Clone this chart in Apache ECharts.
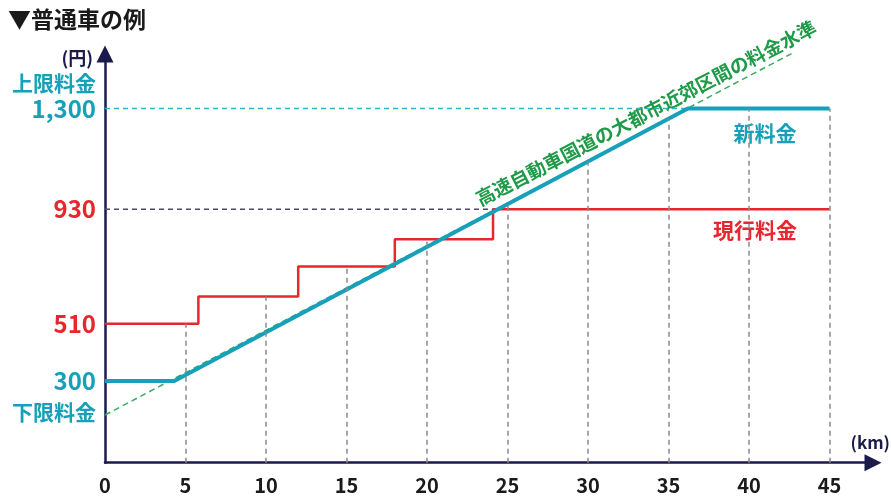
<!DOCTYPE html>
<html><head><meta charset="utf-8">
<script src="https://cdn.jsdelivr.net/npm/echarts@6/dist/echarts.min.js"></script>
<style>html,body{margin:0;padding:0;background:#fff}#c{width:891px;height:497px}</style>
</head><body><div id="c"></div>
<script>
// ---- data ----
const xTickLabels = [0, 5, 10, 15, 20, 25, 30, 35, 40, 45];
const yTickLabels = [300, 510, 930, 1300];
const currentBreaksKm = [0, 5.8, 12, 18, 24.1, 45];
const currentFares = [510, 610, 720, 820, 930];
const newFareKm = [0, 4.3, 36.2, 45];
const newFares = [300, 300, 1300, 1300];
const levelKm = [0, 45];
const levelFares = [175, 1575];

const FONT = '"Noto Sans CJK JP", "Noto Sans", sans-serif';
const CYAN = '#16a0b9', RED = '#e8262e', GREEN = '#1f9a48', NAVY = '#1b1b4b';

const redPts = [];
for (let i = 0; i < currentFares.length; i++) {
  redPts.push([currentBreaksKm[i], currentFares[i]]);
  redPts.push([currentBreaksKm[i + 1], currentFares[i]]);
}
const bluePts = newFareKm.map((k, i) => [k, newFares[i]]);
const greenPts = levelKm.map((k, i) => [k, levelFares[i]]);

function redAt(x) {
  for (let i = 0; i < currentFares.length; i++) {
    if (x >= currentBreaksKm[i] && x < currentBreaksKm[i + 1]) return currentFares[i];
  }
  return currentFares[currentFares.length - 1];
}
function blueAt(x) {
  for (let i = 0; i < newFareKm.length - 1; i++) {
    const a = newFareKm[i], b = newFareKm[i + 1];
    if (x >= a && x <= b) return newFares[i] + (newFares[i + 1] - newFares[i]) * (x - a) / (b - a);
  }
  return newFares[newFares.length - 1];
}
const gridSegs = xTickLabels.filter(v => v > 0).map(v => [
  { coord: [v, 0] }, { coord: [v, Math.max(redAt(v), blueAt(v))] }
]);
const maxFare = newFares[newFares.length - 1];
const capKm = newFareKm[newFares.indexOf(maxFare)];
const lastStepKm = currentBreaksKm[currentFares.length - 1];
const topCurrent = currentFares[currentFares.length - 1];

const chart = echarts.init(document.getElementById('c'));
chart.setOption({
  animation: false,
  backgroundColor: '#fff',
  title: { text: '▼普通車の例', left: 3, top: 3,
    textStyle: { fontSize: 23, fontWeight: 'bold', color: '#1a1a1a', fontFamily: FONT } },
  grid: { left: 105, right: 18, top: 54, bottom: 34.3 },
  xAxis: {
    type: 'value', min: 0, max: 47.7,
    axisLine: { show: true, lineStyle: { color: NAVY, width: 2.5 }, symbol: ['none', 'triangle'], symbolSize: [17, 17] },
    axisTick: { show: false }, splitLine: { show: false },
    axisLabel: { customValues: xTickLabels, fontSize: 20, fontWeight: 'bold', color: '#1a1a1a', margin: 13, fontFamily: FONT }
  },
  yAxis: {
    type: 'value', min: 0, max: 1500,
    axisLine: { show: true, lineStyle: { color: NAVY, width: 2.5 }, symbol: ['none', 'triangle'], symbolSize: [17, 17] },
    axisTick: { show: false }, splitLine: { show: false },
    axisLabel: {
      customValues: yTickLabels, margin: 9,
      formatter: v => (newFares.includes(v) ? '{c|' : '{r|') + v.toLocaleString('en-US') + '}',
      rich: {
        c: { color: CYAN, fontSize: 24, fontWeight: 'bold', fontFamily: FONT },
        r: { color: RED, fontSize: 24, fontWeight: 'bold', fontFamily: FONT }
      }
    }
  },
  series: [
    { type: 'line', data: [], silent: true,
      markLine: { symbol: 'none', silent: true, label: { show: false },
        lineStyle: { type: [5, 4], color: '#8a8a8a', width: 1.5 }, data: gridSegs } },
    { type: 'line', data: [[0, maxFare], [capKm, maxFare]], symbol: 'none', silent: true,
      lineStyle: { color: '#2fb3cc', width: 1.5, type: [5, 4] } },
    { type: 'line', data: [[0, topCurrent], [lastStepKm, topCurrent]], symbol: 'none', silent: true,
      lineStyle: { color: '#4a4a6a', width: 1.5, type: [5, 4] } },
    { type: 'line', data: greenPts, symbol: 'none', silent: true,
      lineStyle: { color: '#3aab5e', width: 1.5, type: [6, 4] } },
    { type: 'line', data: redPts, symbol: 'none', silent: true,
      lineStyle: { color: RED, width: 2.5 } },
    { type: 'line', data: bluePts, symbol: 'none', silent: true,
      lineStyle: { color: CYAN, width: 4 } }
  ]
});

const y1300 = chart.convertToPixel({ gridIndex: 0 }, [0, maxFare])[1];
const y300 = chart.convertToPixel({ gridIndex: 0 }, [0, newFares[0]])[1];
const y930 = chart.convertToPixel({ gridIndex: 0 }, [0, topCurrent])[1];
const tx = (text, x, y, color, size, align, extra) => Object.assign({
  type: 'text', x: x, y: y, silent: true,
  style: { text: text, fill: color, font: 'bold ' + size + 'px ' + FONT, textAlign: align || 'left', textVerticalAlign: 'middle' }
}, extra || {});
chart.setOption({
  graphic: [
    tx('(円)', 93, 58, NAVY, 18, 'right'),
    tx('上限料金', 96, y1300 - 25, CYAN, 21, 'right'),
    tx('下限料金', 96, y300 + 31, CYAN, 21, 'right'),
    tx('(km)', 890, 443, NAVY, 17, 'right'),
    tx('新料金', 765, y1300 + 25, CYAN, 21, 'center'),
    tx('現行料金', 755, y930 + 21, RED, 21, 'center'),
    tx('高速自動車国道の大都市近郊区間の料金水準', 646, 113, GREEN, 19, 'center', { rotation: 27.3 * Math.PI / 180 })
  ]
});
</script></body></html>
